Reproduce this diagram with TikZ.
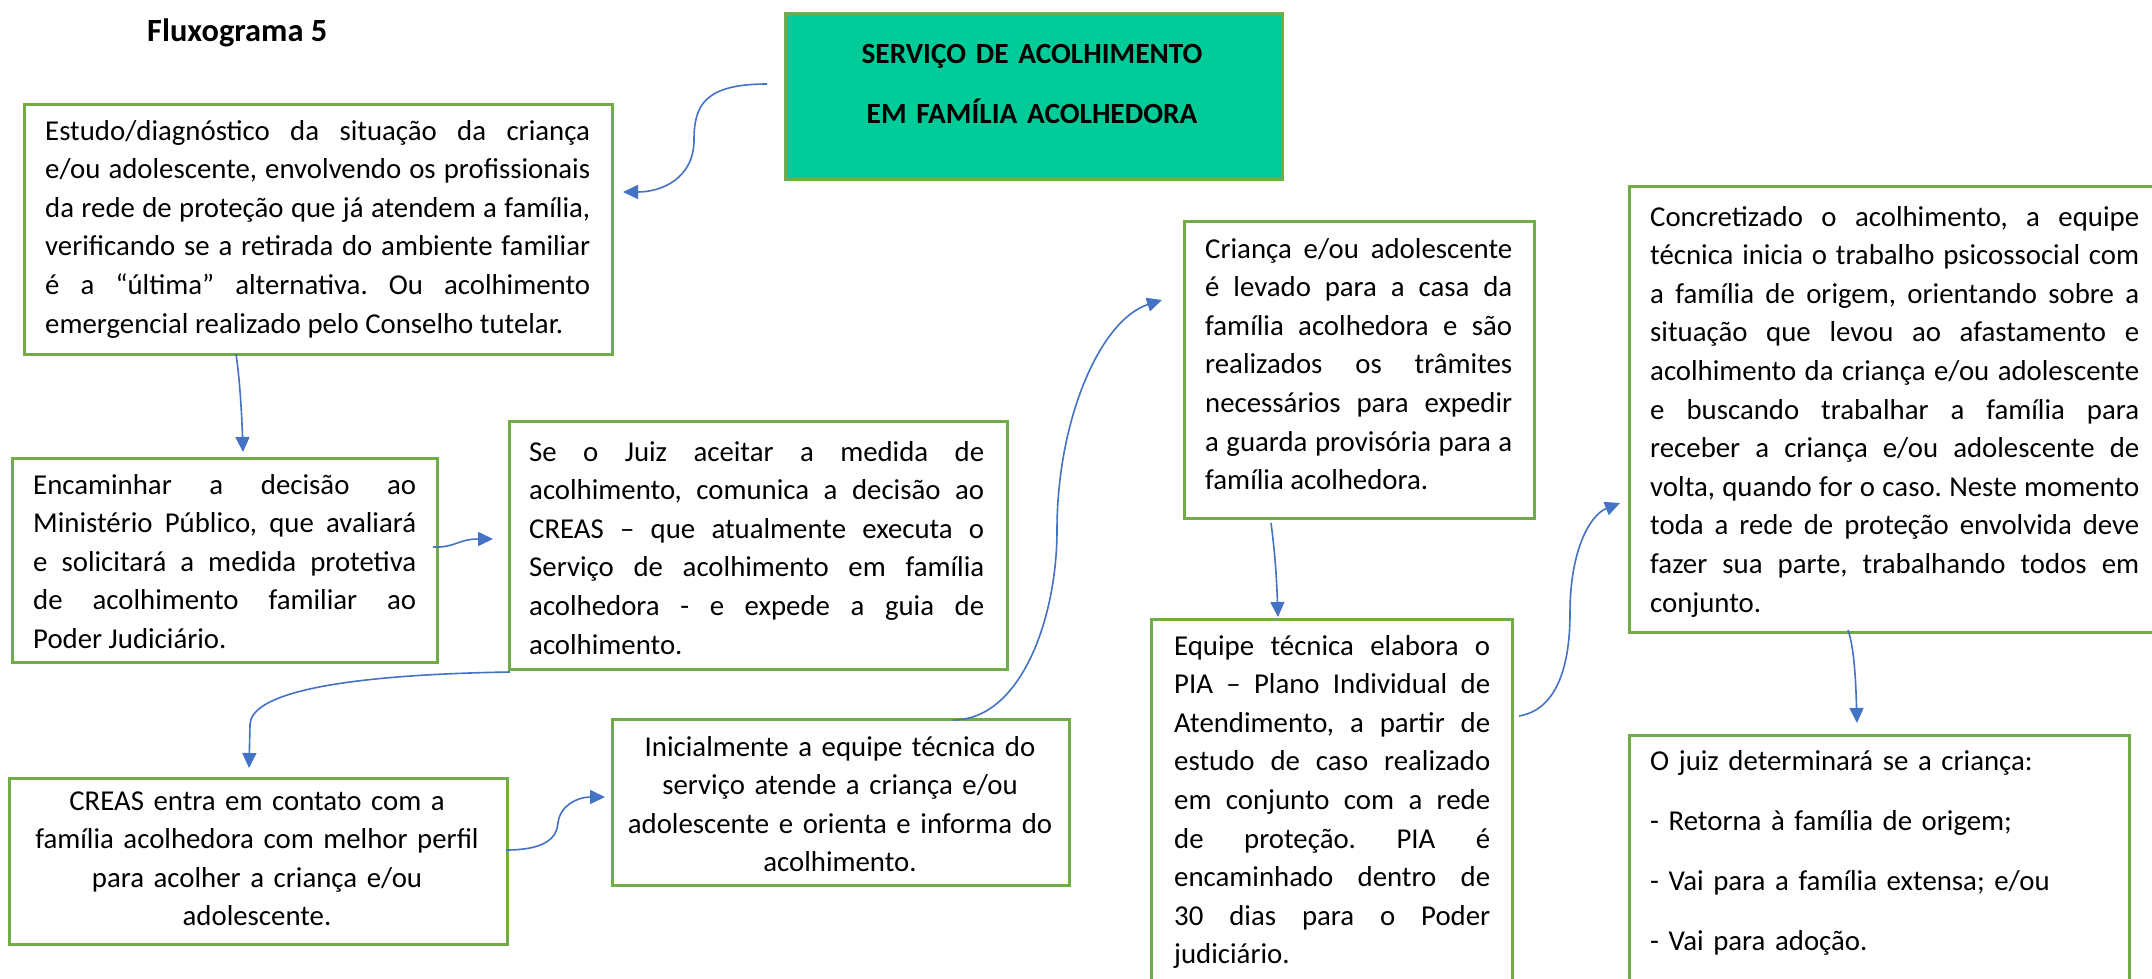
\documentclass[tikz,border=0pt]{standalone}
\usepackage{fontspec}
\setmainfont{Carlito}
\usetikzlibrary{arrows.meta}
\tolerance=10000
\hyphenpenalty=10000
\exhyphenpenalty=10000
\frenchspacing
\definecolor{boxgreen}{HTML}{70AD47}
\definecolor{hdrfill}{HTML}{00CC99}
\definecolor{arrblue}{HTML}{4472C4}
\tikzset{
  box/.style={draw=boxgreen, line width=3pt, fill=white, rectangle, inner sep=0pt, anchor=north west},
  hdrbox/.style={draw=boxgreen, line width=3pt, fill=hdrfill, rectangle, inner sep=0pt, anchor=north west},
  txt/.style={inner sep=0pt, font=\fontsize{28.8}{38.6}\selectfont},
  jtxt/.style={txt, align=justify, anchor=base west},
  ctxt/.style={txt, align=center, anchor=base},
  arr/.style={draw=arrblue, line width=1.6pt, -{Triangle[length=15pt,width=14pt]}}
}
\begin{document}
\begin{tikzpicture}[x=1pt,y=-1pt]
\useasboundingbox (0,0) rectangle (2152,979);
\fill[white] (0,0) rectangle (2152,979);
\clip (0,0) rectangle (2152,979);

% title
\node[txt, font=\fontsize{32.4}{38.6}\selectfont\bfseries, anchor=base west] (title) at (147,42) {Fluxograma 5};

% header
\node[hdrbox, minimum width=497pt, minimum height=166pt] (hdr) at (784,12) {};
\node[txt, font=\fontsize{29.3}{38.6}\selectfont\bfseries, align=center, text width=480pt, anchor=base] (hdrt) at (1032,64)
  {SERVIÇO DE ACOLHIMENTO\\[21.4pt]EM FAMÍLIA ACOLHEDORA};

% boxes
\node[box, minimum width=588pt, minimum height=250pt] (b1) at (23,103) {};
\node[box, minimum width=425pt, minimum height=204pt] (b2) at (11,457) {};
\node[box, minimum width=498pt, minimum height=248pt] (b3) at (508,420) {};
\node[box, minimum width=498pt, minimum height=166pt] (b4) at (8,777) {};
\node[box, minimum width=457pt, minimum height=166pt] (b5) at (611,718) {};
\node[box, minimum width=350pt, minimum height=297pt] (b6) at (1183,220) {};
\node[box, minimum width=361pt, minimum height=420pt] (b7) at (1150,618) {};
\node[box, minimum width=540pt, minimum height=446pt] (b8) at (1628,185) {};
\node[box, minimum width=500pt, minimum height=320pt] (b9) at (1628,734) {};

% texts
\node[jtxt, text width=545pt] (t1) at (45,140) {Estudo/diagnóstico da situação da criança\linebreak e/ou adolescente, envolvendo os profissionais\linebreak da rede de proteção que já atendem a família,\linebreak verificando se a retirada do ambiente familiar\linebreak é a “última” alternativa. Ou acolhimento\linebreak emergencial realizado pelo Conselho tutelar.};

\node[jtxt, text width=383pt] (t2) at (33,494) {Encaminhar a decisão ao\linebreak Ministério Público, que avaliará\linebreak e solicitará a medida protetiva\linebreak de acolhimento familiar ao\linebreak Poder Judiciário.};

\node[jtxt, text width=455pt] (t3) at (529,461) {Se o Juiz aceitar a medida de\linebreak acolhimento, comunica a decisão ao\linebreak CREAS – que atualmente executa o\linebreak Serviço de acolhimento em família\linebreak acolhedora - e expede a guia de\linebreak acolhimento.};

\node[ctxt, text width=480pt] (t4) at (257,810) {CREAS entra em contato com a\\ família acolhedora com melhor perfil\\ para acolher a criança e/ou\\ adolescente.};

\node[ctxt, text width=440pt] (t5) at (840,756) {Inicialmente a equipe técnica do\\ serviço atende a criança e/ou\\ adolescente e orienta e informa do\\ acolhimento.};

\node[jtxt, text width=307pt] (t6) at (1205,258) {Criança e/ou adolescente\linebreak é levado para a casa da\linebreak família acolhedora e são\linebreak realizados os trâmites\linebreak necessários para expedir\linebreak a guarda provisória para a\linebreak família acolhedora.};

\node[jtxt, text width=316pt] (t7) at (1174,655) {Equipe técnica elabora o\linebreak PIA – Plano Individual de\linebreak Atendimento, a partir de\linebreak estudo de caso realizado\linebreak em conjunto com a rede\linebreak de proteção. PIA é\linebreak encaminhado dentro de\linebreak 30 dias para o Poder\linebreak judiciário.};

\node[jtxt, text width=489pt] (t8) at (1650,226) {Concretizado o acolhimento, a equipe\linebreak técnica inicia o trabalho psicossocial com\linebreak a família de origem, orientando sobre a\linebreak situação que levou ao afastamento e\linebreak acolhimento da criança e/ou adolescente\linebreak e buscando trabalhar a família para\linebreak receber a criança e/ou adolescente de\linebreak volta, quando for o caso. Neste momento\linebreak toda a rede de proteção envolvida deve\linebreak fazer sua parte, trabalhando todos em\linebreak conjunto.};

\node[txt, align=left, text width=460pt, anchor=base west] (t9) at (1650,770) {O juiz determinará se a criança:\\[21.4pt]- Retorna à família de origem;\\[21.4pt]- Vai para a família extensa; e/ou\\[21.4pt]- Vai para adoção.};

% connector end points
\coordinate (a1s) at (767,84);   \coordinate (a1e) at (623,192);
\coordinate (a2s) at (236,354);  \coordinate (a2e) at (243,452);
\coordinate (a3s) at (433,547);  \coordinate (a3e) at (493,539);
\coordinate (a4s) at (510,672);  \coordinate (a4e) at (249,768);
\coordinate (a5s) at (506,850);  \coordinate (a5e) at (605,797);
\coordinate (a6s) at (953,720);  \coordinate (a6e) at (1162,300);
\coordinate (a7s) at (1271,523); \coordinate (a7e) at (1278,617);
\coordinate (a8s) at (1519,716); \coordinate (a8e) at (1620,503);
\coordinate (a9s) at (1848,630); \coordinate (a9e) at (1857,723);

% connectors
\draw[arr] (a1s) .. controls (705,84) and (694,105) .. (694,140) .. controls (694,178) and (662,192) .. (a1e);
\draw[arr] (a2s) .. controls (240,380) and (242,420) .. (a2e);
\draw[arr] (a3s) .. controls (455,548) and (458,539) .. (a3e);
\draw[arr] (a4s) .. controls (330,675) and (250,695) .. (250,725) -- (a4e);
\draw[arr] (a5s) .. controls (545,850) and (557,838) .. (558,823) .. controls (560,805) and (578,797) .. (a5e);
\draw[arr] (a6s) .. controls (1020,720) and (1057,620) .. (1057,530) .. controls (1057,420) and (1100,320) .. (a6e);
\draw[arr] (a7s) .. controls (1276,560) and (1277,590) .. (a7e);
\draw[arr] (a8s) .. controls (1555,710) and (1570,670) .. (1570,613) .. controls (1570,550) and (1590,515) .. (a8e);
\draw[arr] (a9s) .. controls (1855,650) and (1856,690) .. (a9e);
\end{tikzpicture}
\end{document}
